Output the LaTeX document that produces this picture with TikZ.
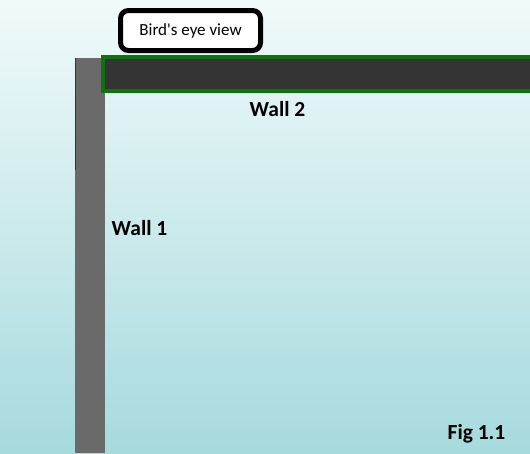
\documentclass[tikz,border=0pt]{standalone}
\usepackage{fontspec}
\setmainfont{Carlito}
\usepackage{tikz}
\usetikzlibrary{positioning,shadows}
\definecolor{wallgray}{RGB}{106,106,106}
\definecolor{walldark}{RGB}{52,52,52}
\definecolor{wallgreen}{RGB}{14,115,14}
\definecolor{skytop}{RGB}{241,250,250}
\definecolor{skybottom}{RGB}{166,218,221}
\tikzset{
    % wall seen from above, left side
    wallone/.style={
        fill=wallgray,
        draw=none
    },
    % wall along the top, green frame
    walltwo/.style={
        fill=walldark,
        draw=wallgreen,
        line width=4pt,
        drop shadow={shadow xshift=0pt, shadow yshift=-2pt, opacity=0.35}
    },
    calloutbox/.style={
        draw=black,
        line width=5pt,
        fill=white,
        rounded corners=8pt,
        minimum width=140pt,
        minimum height=40pt,
        font=\fontsize{17}{19}\selectfont,
        drop shadow={shadow xshift=2pt, shadow yshift=-2pt, opacity=0.5}
    },
    walllabel/.style={
        font=\bfseries\fontsize{21.5}{24}\selectfont,
        text=black
    }
}

\begin{document}
\begin{tikzpicture}[x=1pt,y=-1pt]
    \useasboundingbox (0,0) rectangle (530,453);
    % background
    \shade[top color=skytop, bottom color=skybottom] (0,0) rectangle (530,453);

    % ===================== walls =====================
    \fill[wallone] (75,58) rectangle (105,453);
    \draw[black!80, line width=0.8pt] (75.4,58) -- (75.4,170);
    \draw[walltwo] (103,57) rectangle (545,91);

    \path (277.5,109) coordinate (w2lab)
          (139.5,228) coordinate (w1lab)
          (476.5,434) coordinate (figlab);

    % ===================== labels =====================
    \node[calloutbox] (birdseye) at (190.5,30.5) {Bird\textquotesingle s eye view};
    \node[walllabel] (walltwolabel) at (w2lab) {Wall 2};
    \node[walllabel] (wallonelabel) at (w1lab) {Wall 1};
    \node[walllabel] (figlabel) at (figlab) {Fig 1.1};
\end{tikzpicture}
\end{document}
